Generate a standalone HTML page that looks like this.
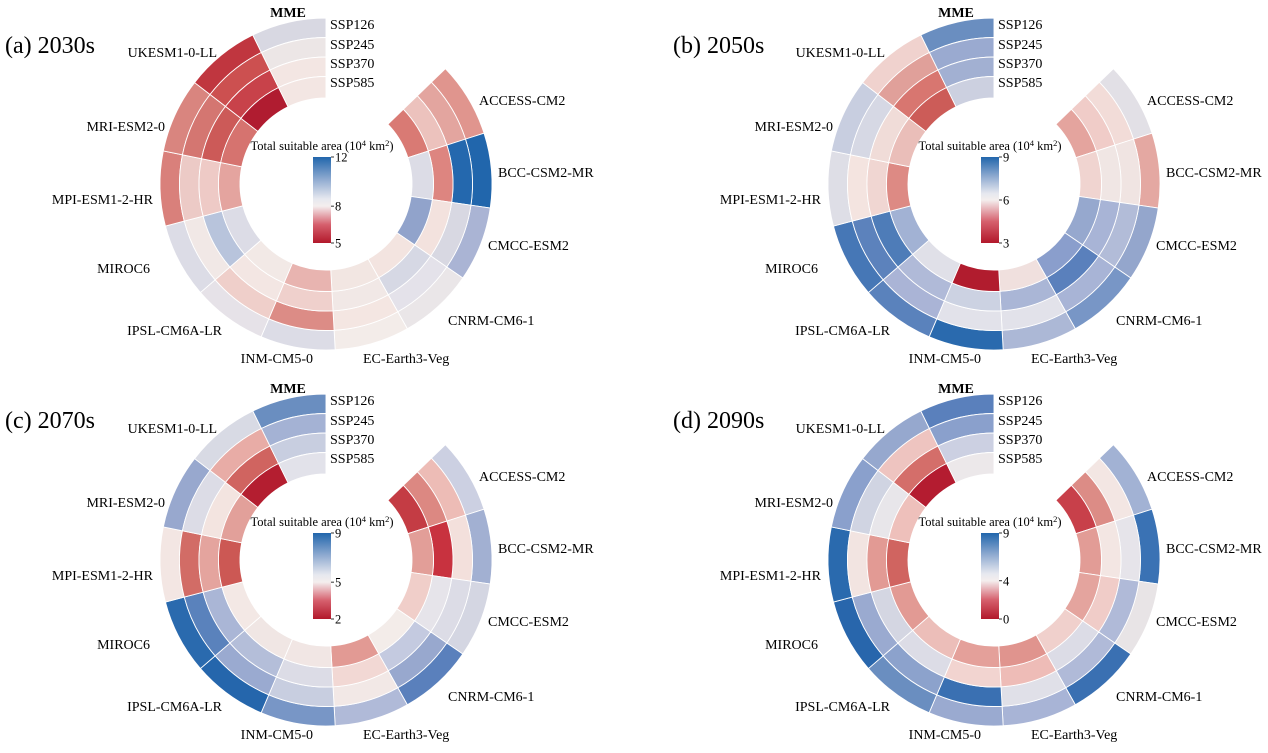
<!DOCTYPE html>
<html><head><meta charset="utf-8"><style>
html,body{margin:0;padding:0;background:#fff;}
svg{display:block;font-family:"Liberation Serif",serif;}
</style></head><body>
<svg id="s" width="1268" height="753" viewBox="0 0 1268 753" xmlns="http://www.w3.org/2000/svg"></svg>
<script>
const NS="http://www.w3.org/2000/svg";
const svg=document.getElementById('s');
function el(t,a,txt){const e=document.createElementNS(NS,t);for(const k in a)e.setAttribute(k,a[k]);if(txt!==undefined)e.textContent=txt;svg.appendChild(e);return e;}
const models=['ACCESS-CM2','BCC-CSM2-MR','CMCC-ESM2','CNRM-CM6-1','EC-Earth3-Veg','INM-CM5-0','IPSL-CM6A-LR','MIROC6','MPI-ESM1-2-HR','MRI-ESM2-0','UKESM1-0-LL','MME'];
const D=[
[ // a
['#e0958e','#e3a59f','#ecc2bd','#d97a74'],
['#2166ac','#2468ae','#dd8580','#dcdce6'],
['#aab4d4','#d8d8e2','#f3e2de','#91a3cb'],
['#eae6e8','#e4e2ea','#d6d8e4','#f3e4e0'],
['#f3ece9','#f4e6e2','#f1e8e6','#f2e6e2'],
['#dcdce6','#dc8c86','#efd0cc','#e8b4b0'],
['#e6e2e8','#efcfca','#f3e6e3','#f2e9e6'],
['#dcdce6','#f1e8e6','#b8c4dc','#dcdce6'],
['#d9807b','#eccac6','#eecac6','#e4a49f'],
['#d9857f','#d47671','#cc5a58','#d6736f'],
['#c0363f','#cc5050','#c8424a','#b01c30'],
['#d8d8e2','#ece6e6','#f3e6e3','#f3e6e3']],
[ // b
['#e2e0e6','#f2dcd8','#f0ccc8','#e4a49e'],
['#e4a8a2','#f0e4e2','#f0e6e4','#f0d4d0'],
['#94a6cc','#b2bcd8','#a8b4d6','#96a8ce'],
['#7896c6','#a8b4d6','#5a80bc','#8a9ecc'],
['#acb8d6','#e2e2ea','#aab6d6','#f0e0de'],
['#2a6aae','#e2e2ea','#ccd2e2','#b11c2e'],
['#5a82bc','#aab4d6','#b0bad8','#e0e0e8'],
['#4677b6','#5c82bc','#4e7cb8','#a2b2d4'],
['#dedee6','#f4e4e0','#f0d6d2','#dd8a84'],
['#c8cee0','#d6d8e4','#f0dcd8','#eabeb9'],
['#f0d2ce','#e0a09a','#d87670','#cc5c58'],
['#6a8ec0','#9aaad0','#a2b0d2','#ccd0e0']],
[ // c
['#ccd0e2','#edbcb6','#dc8882','#c43c44'],
['#a2b0d2','#f3e0dc','#c8323f','#e29e98'],
['#d4d6e2','#dcdce6','#e6e4ea','#f0cec9'],
['#5a80bc','#98a8ce','#c4cae0','#f3ece9'],
['#b0bad8','#f2e8e6','#f2d8d4','#e29a94'],
['#7896c6','#c8cee0','#dcdce6','#f1e6e4'],
['#2566ac','#9aaad0','#b4bed9','#f0e6e4'],
['#2a6aae','#5a82bc','#aab6d6','#f3e8e5'],
['#f3e6e3','#d26c66','#e4a49e','#cc5854'],
['#98a8ce','#dcdce6','#f3e4e0','#e2a09a'],
['#d8dae4','#e8aca6','#d06460','#b41e30'],
['#6a8ec0','#a4b2d4','#c8cee0','#e2e2ea']],
[ // d
['#a2b2d4','#f3e6e3','#dc8c86','#c8404a'],
['#3a72b4','#e6e4ea','#f3e6e3','#e29c96'],
['#e8e4e6','#b0bad8','#f0ccc8','#e4a49e'],
['#3a70b2','#b0bad8','#dcdce6','#f0d0cc'],
['#a8b4d6','#e0e0e8','#eebcb7','#e0948e'],
['#9aaad0','#3a70b2','#f2d4d0','#e4a09a'],
['#6a8ec0','#8ca2cc','#dcdce6','#ecbeb9'],
['#2866ac','#9aaad0','#d4d6e2','#e29a94'],
['#2a6aae','#f2e4e1','#e29a94','#d06460'],
['#8aa0cc','#d0d4e2','#e8e6ea','#eec0bb'],
['#96a8ce','#eec4c0','#d46e6a','#b41c30'],
['#5a80bc','#8aa0cc','#ccd0e2','#ece8ea']]
];
const centers=[[326,184],[994,184],[326,560],[994,560]];
const titles=['(a) 2030s','(b) 2050s','(c) 2070s','(d) 2090s'];
const ticks=[['12','8','5',(3/7)],['9','6','3',0.5],['9','5','2',(3/7)],['9','4','0',(4/9)]];
const radii=[166,146.5,127,107.5,86];
const start=46, step=(360-46)/12;
function P(cx,cy,r,a){const t=a*Math.PI/180;return [(cx+r*Math.sin(t)).toFixed(2),(cy-r*Math.cos(t)).toFixed(2)];}
function arc(cx,cy,r0,r1,a0,a1){
  const p1=P(cx,cy,r1,a0),p2=P(cx,cy,r1,a1),p3=P(cx,cy,r0,a1),p4=P(cx,cy,r0,a0);
  return `M${p1}A${r1},${r1} 0 0 1 ${p2}L${p3}A${r0},${r0} 0 0 0 ${p4}Z`;
}
const lab={
'ACCESS-CM2':[153,-79,'start'],
'BCC-CSM2-MR':[172,-7,'start'],
'CMCC-ESM2':[162,66,'start'],
'CNRM-CM6-1':[122,141,'start'],
'EC-Earth3-Veg':[37,179,'start'],
'INM-CM5-0':[-13,179,'end'],
'IPSL-CM6A-LR':[-104,151,'end'],
'MIROC6':[-176,89,'end'],
'MPI-ESM1-2-HR':[-173,20,'end'],
'MRI-ESM2-0':[-161,-53,'end'],
'UKESM1-0-LL':[-109,-127,'end'],
'MME':[-38,-167,'middle']
};
const tx=[5,673,5,673], ty=[53,53,428,428];
centers.forEach(([cx,cy],p)=>{
  el('text',{x:tx[p],y:ty[p],'font-size':24,fill:'#000'},titles[p]);
  for(let s=0;s<12;s++){
    const a0=start+s*step,a1=a0+step;
    for(let r=0;r<4;r++){
      el('path',{d:arc(cx,cy,radii[r+1],radii[r],a0,a1),fill:D[p][s][r],stroke:'#fff','stroke-width':0.9});
    }
    const L=lab[models[s]];
    const t=el('text',{x:cx+L[0],y:cy+L[1],'font-size':14,'text-anchor':L[2],fill:'#000'},models[s]);
    if(models[s]==='MME')t.setAttribute('font-weight','bold');
  }
  ['SSP126','SSP245','SSP370','SSP585'].forEach((n,i)=>{
    el('text',{x:cx+4,y:cy+[-155,-135,-116,-97][i],'font-size':14,fill:'#000'},n);
  });
  const id='g'+p, f=ticks[p][3];
  const g=document.createElementNS(NS,'linearGradient');
  g.setAttribute('id',id);g.setAttribute('x1',0);g.setAttribute('y1',1);g.setAttribute('x2',0);g.setAttribute('y2',0);
  const mid=f;
  [[0,'#b2182b'],[mid*0.5,'#d6606d'],[mid,'#f4eeee'],[mid+(1-mid)*0.15,'#e6e8ef'],[mid+(1-mid)*0.55,'#8eaad0'],[1,'#2166ac']].forEach(([o,c])=>{
    const st=document.createElementNS(NS,'stop');st.setAttribute('offset',o);st.setAttribute('stop-color',c);g.appendChild(st);});
  svg.appendChild(g);
  const bx=cx-13,by=cy-27,bw=18,bh=86;
  el('rect',{x:bx,y:by,width:bw,height:bh,fill:`url(#${id})`});
  const tt=el('text',{x:cx-4,y:cy-34,'font-size':12.5,'text-anchor':'middle',fill:'#000'});
  tt.innerHTML='Total suitable area (10<tspan dy="-4" font-size="8.5">4</tspan><tspan dy="4"> km</tspan><tspan dy="-4" font-size="8.5">2</tspan><tspan dy="4">)</tspan>';
  const ys=[by,by+bh-f*bh,by+bh];
  ys.forEach((y,i)=>{
    el('line',{x1:bx+bw,y1:y,x2:bx+bw+3,y2:y,stroke:'#000','stroke-width':0.8});
    el('text',{x:bx+bw+4,y:y+4.5,'font-size':12.5,fill:'#000'},ticks[p][i]);
  });
});
</script>
</body></html>
